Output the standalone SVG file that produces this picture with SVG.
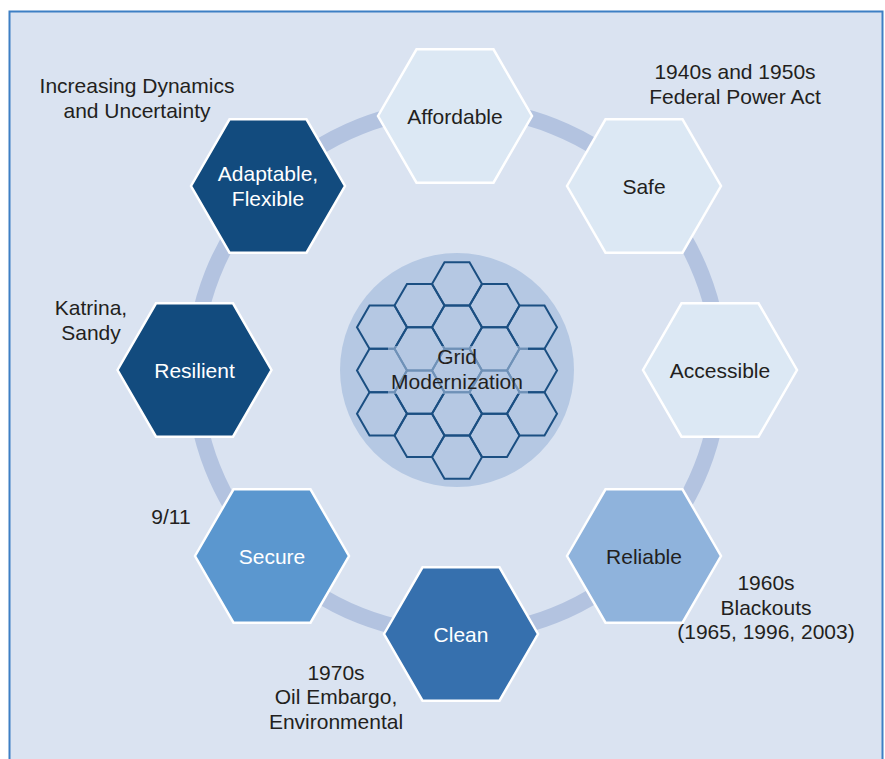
<svg xmlns="http://www.w3.org/2000/svg" xmlns:xlink="http://www.w3.org/1999/xlink" width="885" height="759" viewBox="0 0 885 759">
<style>
text{font-family:"Liberation Sans",Arial,sans-serif;font-size:21px;text-anchor:middle;fill:#231f20}
.w{fill:#ffffff}
.hex{stroke:#ffffff;stroke-width:2.5}
.light{fill:#dce8f4}
.mid{fill:#8fb3dc}
.sec{fill:#5b97cf}
.clean{fill:#3670ae}
.dark{fill:#124b7e}
.cell{fill:none;stroke:#1b4f82;stroke-width:2}
.lab{font-size:18px}
</style>
<defs>
<polygon id="hx" points="-77,0 -38.5,-66.7 38.5,-66.7 77,0 38.5,66.7 -38.5,66.7"/>
<polygon id="sc" points="-25,0 -12.5,-21.65 12.5,-21.65 25,0 12.5,21.65 -12.5,21.65"/>
</defs>
<rect x="0" y="0" width="885" height="759" fill="#ffffff"/>
<rect x="9.5" y="11.5" width="873" height="760" fill="#dae3f1" stroke="#3d7fc4" stroke-width="2"/>
<g id="connectors">
<circle cx="457" cy="371" r="263" fill="none" stroke="#b3c3e0" stroke-width="16"/>
</g>
<g id="center">
<circle cx="457" cy="370" r="117" fill="#b5c8e3"/>
<g transform="translate(457,370.5)">
<use href="#sc" class="cell" x="0" y="-86.6"/>
<use href="#sc" class="cell" x="0" y="-43.3"/>
<use href="#sc" class="cell" x="0" y="0"/>
<use href="#sc" class="cell" x="0" y="43.3"/>
<use href="#sc" class="cell" x="0" y="86.6"/>
<use href="#sc" class="cell" x="-37.5" y="-64.95"/>
<use href="#sc" class="cell" x="-37.5" y="-21.65"/>
<use href="#sc" class="cell" x="-37.5" y="21.65"/>
<use href="#sc" class="cell" x="-37.5" y="64.95"/>
<use href="#sc" class="cell" x="37.5" y="-64.95"/>
<use href="#sc" class="cell" x="37.5" y="-21.65"/>
<use href="#sc" class="cell" x="37.5" y="21.65"/>
<use href="#sc" class="cell" x="37.5" y="64.95"/>
<use href="#sc" class="cell" x="-75" y="-43.3"/>
<use href="#sc" class="cell" x="-75" y="0"/>
<use href="#sc" class="cell" x="-75" y="43.3"/>
<use href="#sc" class="cell" x="75" y="-43.3"/>
<use href="#sc" class="cell" x="75" y="0"/>
<use href="#sc" class="cell" x="75" y="43.3"/>
</g>
<rect x="388" y="346" width="140" height="48" fill="#b5c8e3" opacity="0.55"/>
<text x="457" y="364">Grid</text>
<text x="457" y="389">Modernization</text>
</g>
<g id="affordable">
<use href="#hx" class="hex light" x="455" y="116"/>
<text x="455" y="123.5">Affordable</text>
</g>
<g id="safe">
<use href="#hx" class="hex light" x="644" y="186"/>
<text x="644" y="193.5">Safe</text>
</g>
<g id="accessible">
<use href="#hx" class="hex light" x="720" y="370"/>
<text x="720" y="377.5">Accessible</text>
</g>
<g id="reliable">
<use href="#hx" class="hex mid" x="644" y="556"/>
<text x="644" y="563.5">Reliable</text>
</g>
<g id="clean">
<use href="#hx" class="hex clean" x="461" y="634"/>
<text class="w" x="461" y="641.5">Clean</text>
</g>
<g id="secure">
<use href="#hx" class="hex sec" x="272" y="556"/>
<text class="w" x="272" y="563.5">Secure</text>
</g>
<g id="resilient">
<use href="#hx" class="hex dark" x="194.5" y="370"/>
<text class="w" x="194.5" y="377.5">Resilient</text>
</g>
<g id="adaptable">
<use href="#hx" class="hex dark" x="268" y="186"/>
<text class="w" x="268" y="181">Adaptable,</text>
<text class="w" x="268" y="205.5">Flexible</text>
</g>
<g id="labels">
<text x="137" y="92.5">Increasing Dynamics</text>
<text x="137" y="117.5">and Uncertainty</text>
<text x="735" y="78.5">1940s and 1950s</text>
<text x="735" y="103.5">Federal Power Act</text>
<text x="91" y="315">Katrina,</text>
<text x="91" y="340">Sandy</text>
<text x="171" y="523.5">9/11</text>
<text x="766" y="590">1960s</text>
<text x="766" y="614.5">Blackouts</text>
<text x="766" y="639">(1965, 1996, 2003)</text>
<text x="336" y="679.5">1970s</text>
<text x="336" y="704">Oil Embargo,</text>
<text x="336" y="728.5">Environmental</text>
</g>
</svg>
